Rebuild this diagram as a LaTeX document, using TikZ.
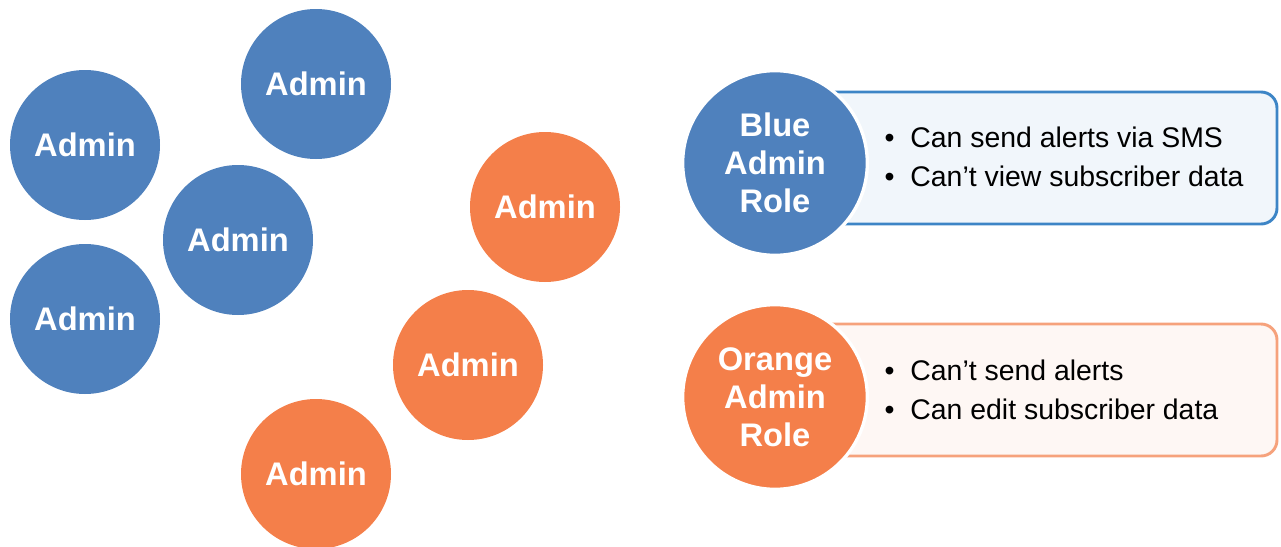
\documentclass[tikz,border=0pt]{standalone}
\usepackage{fontspec}
\setmainfont{Liberation Sans}
\definecolor{roleblue}{HTML}{4F81BD}
\definecolor{roleorange}{HTML}{F47F4A}
\definecolor{boxblue}{HTML}{3D85C6}
\definecolor{boxorange}{HTML}{F6A27C}
\definecolor{fillblue}{HTML}{F1F6FB}
\definecolor{fillorange}{HTML}{FEF7F4}
\tikzset{
  admin/.style={circle, minimum size=112.5pt, inner sep=0pt, text=white,
    font=\fontsize{24.5}{29}\selectfont\bfseries},
  blueadmin/.style={admin, fill=roleblue},
  orangeadmin/.style={admin, fill=roleorange},
  rolecircle/.style={circle, minimum size=138.5pt, inner sep=0pt, text=white,
    draw=white, line width=2.5pt, align=center,
    font=\fontsize{24.5}{28.5}\selectfont\bfseries},
  rolebox/.style={rounded corners=12pt, line width=2.2pt},
  roletext/.style={anchor=west, align=left, text=black,
    font=\fontsize{21.3}{29}\selectfont}
}
\begin{document}
\begin{tikzpicture}[x=0.75pt, y=-0.75pt]
  \useasboundingbox (0,0) rectangle (1281,546);

  % individual administrators
  \node[blueadmin] (b1) at (316,84) {Admin};
  \node[blueadmin] (b2) at (85,145) {Admin};
  \node[blueadmin] (b3) at (238,240) {Admin};
  \node[blueadmin] (b4) at (85,319) {Admin};
  \node[orangeadmin] (o1) at (545,207) {Admin};
  \node[orangeadmin] (o2) at (468,365) {Admin};
  \node[orangeadmin] (o3) at (316,474) {Admin};

  % role cards
  \draw[rolebox, draw=boxblue, fill=fillblue] (800,92) rectangle (1277,224);
  \node[roletext] (bt) at (880,157) {•\ \ Can send alerts via SMS\\•\ \ Can’t view subscriber data};
  \node[rolecircle, fill=roleblue] (br) at (775,163) {Blue\\Admin\\Role};

  \draw[rolebox, draw=boxorange, fill=fillorange] (800,324) rectangle (1277,456);
  \node[roletext] (ot) at (880,390) {•\ \ Can’t send alerts\\•\ \ Can edit subscriber data};
  \node[rolecircle, fill=roleorange] (or) at (775,397) {Orange\\Admin\\Role};
\end{tikzpicture}
\end{document}
